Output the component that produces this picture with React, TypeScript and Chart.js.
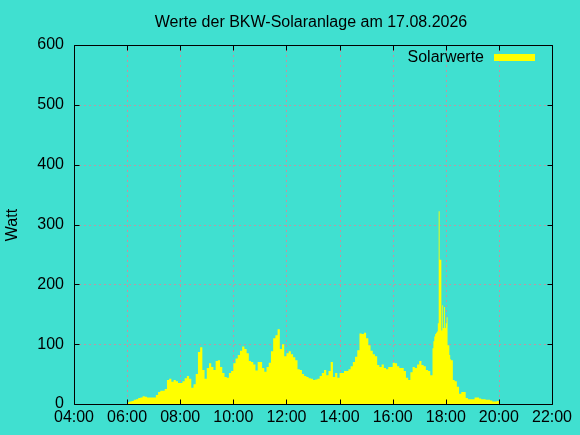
import { useEffect, useRef } from 'react';
import { Chart, registerables } from 'chart.js';

Chart.register(...registerables);

const FONT = "'Liberation Sans', Arial, Helvetica, sans-serif";
const BG = '#40E0D0';
const GRID = 'rgb(190,150,162)';
const FILL = '#ffff00';

const chartTitle = 'Werte der BKW-Solaranlage am 17.08.2026';
const yAxisTitle = 'Watt';
const seriesName = 'Solarwerte';

const xTickMinutes = [240, 360, 480, 600, 720, 840, 960, 1080, 1200, 1320];
const xTickLabels = ['04:00', '06:00', '08:00', '10:00', '12:00', '14:00', '16:00', '18:00', '20:00', '22:00'];
const yTickValues = [0, 100, 200, 300, 400, 500, 600];

// minutes since midnight
const sampleMinutes = [
  360, 365, 370, 375, 380, 385, 390, 395, 400, 405, 410, 415,
  420, 425, 430, 435, 440, 445, 450, 455, 460, 465, 470, 475,
  480, 485, 490, 495, 500, 505, 510, 515, 520, 525, 530, 535,
  540, 545, 550, 555, 560, 565, 570, 575, 580, 585, 590, 595,
  600, 605, 610, 615, 620, 625, 630, 635, 640, 645, 650, 655,
  660, 665, 670, 675, 680, 685, 690, 695, 700, 705, 710, 715,
  720, 725, 730, 735, 740, 745, 750, 755, 760, 765, 770, 775,
  780, 785, 790, 795, 800, 805, 810, 815, 820, 825, 830, 835,
  840, 845, 850, 855, 860, 865, 870, 875, 880, 885, 890, 895,
  900, 905, 910, 915, 920, 925, 930, 935, 940, 945, 950, 955,
  960, 965, 970, 975, 980, 985, 990, 995, 1000, 1005, 1010, 1015,
  1020, 1025, 1030, 1035, 1040, 1045, 1050, 1052, 1054, 1056, 1058, 1060,
  1062, 1064, 1066, 1068, 1070, 1072, 1074, 1076, 1078, 1080, 1082, 1084,
  1086, 1088, 1090, 1092, 1094, 1096, 1098, 1100, 1105, 1110, 1115, 1120,
  1125, 1130, 1135, 1140, 1145, 1150, 1155, 1160, 1165, 1170, 1175, 1180,
  1185, 1190, 1195, 1200, 1205,
];

const solarWatts = [
  2, 3, 4, 5, 7, 8, 10, 11, 13, 12, 11, 11,
  11, 11, 15, 20, 22, 22, 25, 40, 42, 37, 40, 38,
  35, 35, 38, 43, 47, 42, 27, 33, 50, 87, 95, 57,
  42, 60, 68, 62, 57, 72, 73, 62, 52, 45, 44, 52,
  55, 68, 76, 82, 89, 96, 92, 85, 72, 70, 66, 56,
  70, 70, 60, 54, 62, 69, 88, 110, 115, 125, 92, 100,
  80, 85, 88, 83, 78, 73, 58, 57, 50, 47, 45, 43,
  42, 40, 41, 42, 47, 52, 57, 48, 55, 70, 45, 52,
  44, 52, 52, 55, 55, 58, 63, 70, 79, 90, 118, 117,
  119, 110, 98, 89, 83, 80, 65, 62, 66, 60, 58, 62,
  62, 69, 68, 63, 60, 60, 55, 44, 40, 53, 62, 60,
  66, 72, 65, 63, 57, 55, 48, 93, 105, 113, 117, 119,
  121, 135, 322, 241, 241, 123, 165, 127, 162, 127, 135, 145,
  98, 98, 82, 75, 73, 73, 40, 40, 38, 29, 17, 20,
  20, 10, 8, 8, 8, 11, 11, 9, 8, 8, 7, 7,
  6, 4, 4, 5, 0,
];

const deco = {
  id: 'deco',
  beforeDatasetsDraw(chart: any) {
    const { ctx, chartArea: a, scales } = chart;
    const x = scales.x;
    const y = scales.y;
    ctx.save();
    ctx.strokeStyle = GRID;
    ctx.lineWidth = 1;
    ctx.setLineDash([2, 3]);
    xTickMinutes.forEach((m) => {
      const px = Math.round(x.getPixelForValue(m)) + 0.5;
      ctx.beginPath();
      ctx.moveTo(px, a.top);
      ctx.lineTo(px, a.bottom);
      ctx.stroke();
    });
    yTickValues.forEach((v) => {
      const py = Math.round(y.getPixelForValue(v)) + 0.5;
      ctx.beginPath();
      ctx.moveTo(a.left, py);
      ctx.lineTo(a.right, py);
      ctx.stroke();
    });
    ctx.restore();
  },
  afterDatasetsDraw(chart: any) {
    const { ctx, chartArea: a, scales } = chart;
    const x = scales.x;
    const y = scales.y;
    const L = Math.round(a.left) + 0.5;
    const R = Math.round(a.right) + 0.5;
    const T = Math.round(a.top) + 0.5;
    const B = Math.round(a.bottom) + 0.5;
    ctx.save();
    ctx.strokeStyle = '#000';
    ctx.lineWidth = 1;
    ctx.setLineDash([]);
    ctx.beginPath();
    ctx.rect(L, T, R - L, B - T);
    ctx.stroke();
    const tl = 5;
    ctx.beginPath();
    xTickMinutes.forEach((m) => {
      const px = Math.round(x.getPixelForValue(m)) + 0.5;
      ctx.moveTo(px, B);
      ctx.lineTo(px, B - tl);
      ctx.moveTo(px, T);
      ctx.lineTo(px, T + tl);
    });
    yTickValues.forEach((v) => {
      const py = Math.round(y.getPixelForValue(v)) + 0.5;
      ctx.moveTo(L, py);
      ctx.lineTo(L + tl, py);
      ctx.moveTo(R, py);
      ctx.lineTo(R - tl, py);
    });
    ctx.stroke();

    ctx.fillStyle = '#000';
    ctx.font = `16px ${FONT}`;
    ctx.textAlign = 'center';
    ctx.textBaseline = 'alphabetic';
    ctx.fillText(chartTitle, 311, 27);

    ctx.textAlign = 'right';
    ctx.fillText(seriesName, 484, 62);
    ctx.fillStyle = FILL;
    ctx.fillRect(494, 54, 41, 7);

    ctx.fillStyle = '#000';
    ctx.translate(17, 225);
    ctx.rotate(-Math.PI / 2);
    ctx.textAlign = 'center';
    ctx.fillText(yAxisTitle, 0, 0);
    ctx.restore();
  },
};

export default function App() {
  const ref = useRef<HTMLCanvasElement>(null);
  useEffect(() => {
    document.body.style.margin = '0';
    const chart = new Chart(ref.current as HTMLCanvasElement, {
      type: 'line',
      data: {
        datasets: [
          {
            label: seriesName,
            data: sampleMinutes.map((m, i) => ({ x: m, y: solarWatts[i] })),
            stepped: 'after',
            fill: 'origin',
            backgroundColor: FILL,
            borderColor: FILL,
            borderWidth: 0,
            pointRadius: 0,
            pointHoverRadius: 0,
          } as any,
        ],
      },
      options: {
        responsive: false,
        animation: false,
        devicePixelRatio: 1,
        events: [],
        layout: { padding: { left: 0, right: 28, top: 45, bottom: 0 } },
        plugins: {
          legend: { display: false },
          title: { display: false },
          tooltip: { enabled: false },
        },
        scales: {
          x: {
            type: 'linear',
            min: 240,
            max: 1320,
            afterFit: (s: any) => {
              s.height = 31;
            },
            grid: { display: false, drawTicks: false },
            border: { display: false },
            ticks: {
              stepSize: 120,
              autoSkip: false,
              maxRotation: 0,
              padding: 4,
              color: '#000',
              font: { family: FONT, size: 16 },
              callback: (v: any) => {
                const i = xTickMinutes.indexOf(Number(v));
                return i >= 0 ? xTickLabels[i] : '';
              },
            },
          },
          y: {
            type: 'linear',
            min: 0,
            max: 600,
            afterFit: (s: any) => {
              s.width = 74;
            },
            grid: { display: false, drawTicks: false },
            border: { display: false },
            ticks: {
              stepSize: 100,
              padding: 10,
              color: '#000',
              font: { family: FONT, size: 16 },
            },
          },
        },
      },
      plugins: [deco],
    });
    return () => chart.destroy();
  }, []);
  return (
    <div style={{ position: 'fixed', left: 0, top: 0, width: 580, height: 435, background: BG }}>
      <canvas ref={ref} width={580} height={435} style={{ display: 'block', width: 580, height: 435 }} />
    </div>
  );
}
